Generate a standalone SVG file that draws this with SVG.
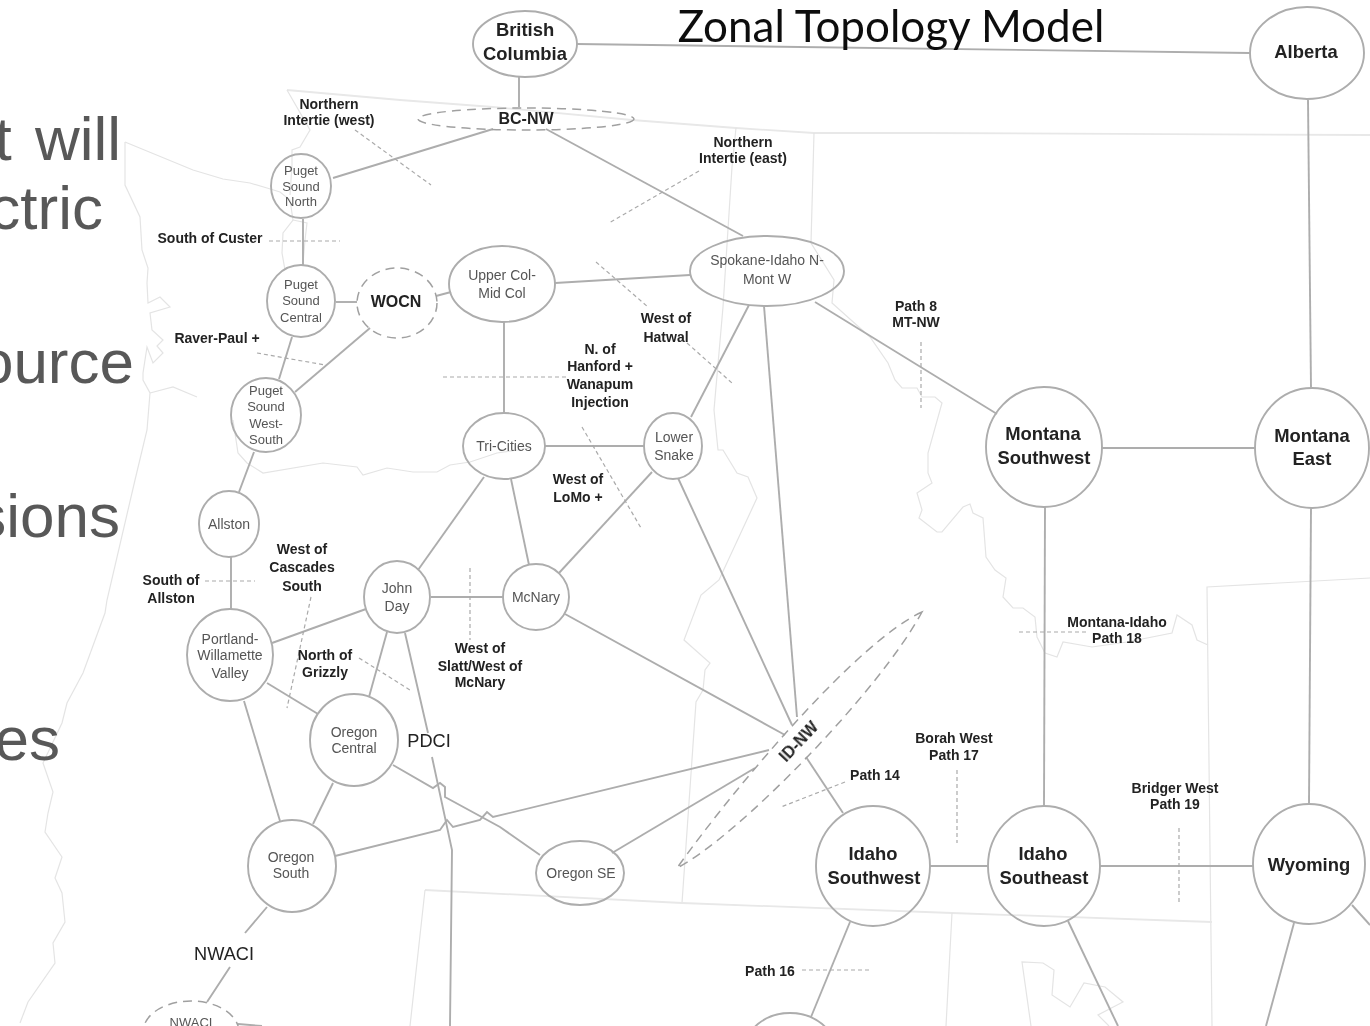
<svg xmlns="http://www.w3.org/2000/svg" width="1370" height="1026" viewBox="0 0 1370 1026">
<defs><filter id="soft" x="-5%" y="-20%" width="110%" height="140%"><feGaussianBlur stdDeviation="0.35"/></filter></defs>
<style>
text{font-family:"Liberation Sans",Arial,sans-serif;text-anchor:middle;filter:url(#soft)}
.n{fill:none;stroke:#adadad;stroke-width:1.9}
.d{fill:none;stroke:#a0a0a0;stroke-width:1.5;stroke-dasharray:9 6}
.c{fill:none;stroke:#adadad;stroke-width:1.9}
.m{fill:none;stroke:#e4e4e4;stroke-width:1.2}
.m2{fill:none;stroke:#e8e8e8;stroke-width:1.8}
.x{fill:none;stroke:#aaa;stroke-width:1.2;stroke-dasharray:4 3}
.s{font-size:13px;fill:#555}
.t{font-size:14px;fill:#555}
.l{font-size:14px;font-weight:bold;fill:#222}
.b{font-size:18.4px;font-weight:bold;fill:#222}
.r{font-size:18.2px;fill:#222}
.big{font-size:62px;fill:#595959;text-anchor:end}
</style>
<rect width="1370" height="1026" fill="#fff"/>
<g id="map">
<path class="m2" d="M287 90L400 100L493 107L632 120L736 128L814 133L923 133L1370 135"/>
<path class="m" d="M287 90L310 130L300 147L292 150L292 165L290 195"/>
<path class="m" d="M125 142L193 170L223 179L250 183L267 188L280 192L290 200L293 220L283 233L282 253L285 270"/>
<path class="m" d="M293 220L307 223L305 240L303 263"/>
<path class="m" d="M125 142L125 185L140 217L142 250L148 268L147 283L148 303L160 297L170 307L150 313L152 330L163 340L157 346L163 353L153 363L147 347L143 373L143 380L150 393L147 430L135 480L107 600L105 613L83 673L67 703L62 723L43 763L53 792L48 813L45 832L62 857L55 878L62 893L65 922L53 943L55 963L28 1002L20 1023"/>
<path class="m" d="M150 393L173 387L197 397"/>
<path class="m" d="M233 420L238 453L247 463L263 473L323 463L357 467L363 475L387 468L413 472L437 472L450 465L470 462L497 453L530 448"/>
<path class="m" d="M736 128L732 167L723 307L714 410L718 450L723 450L737 473L748 477L757 498L719 580L701 595L684 640L710 663L705 670L703 690L696 702L682 903"/>
<path class="m" d="M814 133L811 243L834 280L832 303L870 337L888 363L895 380L902 388L917 388L922 397L935 397L942 403L928 453L928 473L932 483L917 493L922 510L919 518L937 532L942 532L963 507L970 504L973 513L983 518L986 557L995 570L1006 578L1003 597L1013 608L1023 608L1035 617L1037 637L1045 653L1057 657L1063 642L1092 647L1127 642L1172 633L1177 615L1192 625L1197 640L1208 645"/>
<path class="m" d="M1370 578L1207 587L1212 1026"/>
<path class="m2" d="M425 890L682 903L952 913L1212 922"/>
<path class="m" d="M425 890L410 1026M952 913L946 1026"/>
<path class="m" d="M1031 1026L1022 962L1043 963L1054 970L1052 995L1070 1007L1084 983L1105 987L1123 1002L1098 1015L1109 1026"/>
</g>
<g id="connectors">
<path class="c" d="M577 44L1250 53"/>
<path class="c" d="M519 76L519 107"/>
<path class="c" d="M333 178L493 129"/>
<path class="c" d="M546 129L743 236"/>
<path class="c" d="M303 219L303 266"/>
<path class="c" d="M336 302L357 302"/>
<path class="c" d="M436 296L451 292"/>
<path class="c" d="M292 337L279 379"/>
<path class="c" d="M370 328L295 392"/>
<path class="c" d="M555 283L690 275"/>
<path class="c" d="M504 322L504 413"/>
<path class="c" d="M545 446L644 446"/>
<path class="c" d="M749 305L691 417"/>
<path class="c" d="M254 452L239 492"/>
<path class="c" d="M231 557L231 609"/>
<path class="c" d="M484 477L418 570"/>
<path class="c" d="M511 479L529 565"/>
<path class="c" d="M652 472L559 573"/>
<path class="c" d="M431 597L503 597"/>
<path class="c" d="M272 643L366 609"/>
<path class="c" d="M387 632L369 697"/>
<path class="c" d="M267 683L318 714"/>
<path class="c" d="M244 701L280 821"/>
<path class="c" d="M333 783L313 824"/>
<path class="c" d="M405 633L428 733M432 757L452 850L450 1026"/>
<path class="c" d="M393 765L433 788L440 783L445 787L445 797L500 827L540 855"/>
<path class="c" d="M335 856L440 830L447 820L453 827L480 820L487 812L493 817L769 750"/>
<path class="c" d="M612 853L755 768"/>
<path class="c" d="M565 614L785 735"/>
<path class="c" d="M678 478L792 725"/>
<path class="c" d="M764 306L797 717"/>
<path class="c" d="M806 757L843 813"/>
<path class="c" d="M815 302L997 414"/>
<path class="c" d="M1101 448L1256 448"/>
<path class="c" d="M1308 100L1311 388"/>
<path class="c" d="M1045 507L1044 806"/>
<path class="c" d="M1311 508L1309 804"/>
<path class="c" d="M930 866L988 866"/>
<path class="c" d="M1100 866L1253 866"/>
<path class="c" d="M850 922L811 1017"/>
<path class="c" d="M1068 921L1118 1026"/>
<path class="c" d="M1294 923L1266 1026"/>
<path class="c" d="M1352 905L1370 925"/>
<path class="c" d="M267 907L245 933M230 967L207 1002"/>
<path class="c" d="M238 1024L262 1026"/>
</g>
<g id="cuts">
<path class="x" d="M355 130L431 185"/>
<path class="x" d="M699 171L609 223"/>
<path class="x" d="M269 241L340 241"/>
<path class="x" d="M257 353L325 365"/>
<path class="x" d="M596 262L648 307M687 343L732 383"/>
<path class="x" d="M443 377L566 377"/>
<path class="x" d="M582 427L641 528"/>
<path class="x" d="M311 597L287 708"/>
<path class="x" d="M359 658L410 690"/>
<path class="x" d="M470 568L470 640"/>
<path class="x" d="M205 581L255 581"/>
<path class="x" d="M921 342L921 408"/>
<path class="x" d="M845 782L781 807"/>
<path class="x" d="M957 770L957 843"/>
<path class="x" d="M1179 828L1179 902"/>
<path class="x" d="M1019 632L1088 632"/>
<path class="x" d="M802 970L870 970"/>
</g>
<g id="slide-text">
<text class="big" x="121" y="160" word-spacing="6">t will</text>
<text class="big" x="103" y="229">ctric</text>
<text class="big" x="134" y="383">ource</text>
<text class="big" x="120" y="537">sions</text>
<text class="big" x="60" y="760">es</text>
<text x="891" y="42" style="font-family:Lato,'Open Sans',sans-serif;font-size:44px;fill:#111">Zonal Topology Model</text>
</g>
<g id="british-columbia"><ellipse class="n" cx="525" cy="44" rx="52" ry="33"/><text class="b" x="525" y="36">British</text><text class="b" x="525" y="60">Columbia</text></g>
<g id="alberta"><ellipse class="n" cx="1307" cy="53" rx="57" ry="46"/><text class="b" x="1306" y="58">Alberta</text></g>
<g id="bc-nw"><ellipse class="d" cx="526" cy="119" rx="108" ry="11"/><text x="526" y="124" style="font-size:16px;font-weight:bold;fill:#222">BC-NW</text></g>
<g id="puget-north"><ellipse class="n" cx="301" cy="186" rx="30" ry="32"/><text class="s" x="301" y="175">Puget</text><text class="s" x="301" y="191">Sound</text><text class="s" x="301" y="206">North</text></g>
<g id="puget-central"><ellipse class="n" cx="301" cy="301" rx="34" ry="36"/><text class="s" x="301" y="289">Puget</text><text class="s" x="301" y="305">Sound</text><text class="s" x="301" y="322">Central</text></g>
<g id="wocn"><ellipse class="d" cx="397" cy="303" rx="40" ry="35"/><text x="396" y="307" style="font-size:16px;font-weight:bold;fill:#222">WOCN</text></g>
<g id="puget-west-south"><ellipse class="n" cx="266" cy="415" rx="35" ry="37"/><text class="s" x="266" y="395">Puget</text><text class="s" x="266" y="411">Sound</text><text class="s" x="266" y="428">West-</text><text class="s" x="266" y="444">South</text></g>
<g id="upper-col"><ellipse class="n" cx="502" cy="284" rx="53" ry="38"/><text class="t" x="502" y="280">Upper Col-</text><text class="t" x="502" y="298">Mid Col</text></g>
<g id="spokane"><ellipse class="n" cx="767" cy="271" rx="77" ry="35"/><text class="t" x="767" y="265">Spokane-Idaho N-</text><text class="t" x="767" y="284">Mont W</text></g>
<g id="tri-cities"><ellipse class="n" cx="504" cy="446" rx="41" ry="33"/><text class="t" x="504" y="451">Tri-Cities</text></g>
<g id="lower-snake"><ellipse class="n" cx="673" cy="446" rx="29" ry="33"/><text class="t" x="674" y="442">Lower</text><text class="t" x="674" y="460">Snake</text></g>
<g id="allston"><ellipse class="n" cx="229" cy="524" rx="30" ry="33"/><text class="t" x="229" y="529">Allston</text></g>
<g id="john-day"><ellipse class="n" cx="397" cy="597" rx="33" ry="36"/><text class="t" x="397" y="593">John</text><text class="t" x="397" y="611">Day</text></g>
<g id="mcnary"><ellipse class="n" cx="536" cy="597" rx="33" ry="33"/><text class="t" x="536" y="602">McNary</text></g>
<g id="portland"><ellipse class="n" cx="230" cy="655" rx="43" ry="46"/><text class="t" x="230" y="644">Portland-</text><text class="t" x="230" y="660">Willamette</text><text class="t" x="230" y="678">Valley</text></g>
<g id="oregon-central"><ellipse class="n" cx="354" cy="740" rx="44" ry="46"/><text class="t" x="354" y="737">Oregon</text><text class="t" x="354" y="753">Central</text></g>
<g id="oregon-south"><ellipse class="n" cx="292" cy="866" rx="44" ry="46"/><text class="t" x="291" y="862">Oregon</text><text class="t" x="291" y="878">South</text></g>
<g id="oregon-se"><ellipse class="n" cx="580" cy="873" rx="44" ry="32"/><text class="t" x="581" y="878">Oregon SE</text></g>
<g id="id-nw"><path class="d" d="M922 612C860 640 740 780 677 868C740 835 880 690 922 612Z"/><text x="799" y="747" transform="rotate(-46.5 799 742)" style="font-size:16px;font-weight:bold;fill:#222">ID-NW</text></g>
<g id="idaho-southwest"><ellipse class="n" cx="873" cy="866" rx="57" ry="60"/><text class="b" x="873" y="860">Idaho</text><text class="b" x="874" y="884">Southwest</text></g>
<g id="idaho-southeast"><ellipse class="n" cx="1044" cy="866" rx="56" ry="60"/><text class="b" x="1043" y="860">Idaho</text><text class="b" x="1044" y="884">Southeast</text></g>
<g id="wyoming"><ellipse class="n" cx="1309" cy="864" rx="56" ry="60"/><text class="b" x="1309" y="871">Wyoming</text></g>
<g id="montana-southwest"><ellipse class="n" cx="1044" cy="447" rx="58" ry="60"/><text class="b" x="1043" y="440">Montana</text><text class="b" x="1044" y="464">Southwest</text></g>
<g id="montana-east"><ellipse class="n" cx="1312" cy="448" rx="57" ry="60"/><text class="b" x="1312" y="442">Montana</text><text class="b" x="1312" y="465">East</text></g>
<g id="nwaci"><ellipse class="d" cx="191" cy="1032" rx="48" ry="31"/><text class="s" x="191" y="1027">NWACI</text></g>
<g id="bottom-node"><ellipse class="n" cx="790" cy="1050" rx="45" ry="37"/></g>
<g id="labels">
<text class="l" x="329" y="109">Northern</text><text class="l" x="329" y="125">Intertie (west)</text>
<text class="l" x="743" y="147">Northern</text><text class="l" x="743" y="163">Intertie (east)</text>
<text class="l" x="210" y="243">South of Custer</text>
<text class="l" x="217" y="343">Raver-Paul +</text>
<text class="l" x="666" y="323">West of</text><text class="l" x="666" y="342">Hatwal</text>
<text class="l" x="600" y="354">N. of</text><text class="l" x="600" y="371">Hanford +</text><text class="l" x="600" y="389">Wanapum</text><text class="l" x="600" y="407">Injection</text>
<text class="l" x="916" y="311">Path 8</text><text class="l" x="916" y="327">MT-NW</text>
<text class="l" x="578" y="484">West of</text><text class="l" x="578" y="502">LoMo +</text>
<text class="l" x="302" y="554">West of</text><text class="l" x="302" y="572">Cascades</text><text class="l" x="302" y="591">South</text>
<text class="l" x="171" y="585">South of</text><text class="l" x="171" y="603">Allston</text>
<text class="l" x="325" y="660">North of</text><text class="l" x="325" y="677">Grizzly</text>
<text class="l" x="480" y="653">West of</text><text class="l" x="480" y="671">Slatt/West of</text><text class="l" x="480" y="687">McNary</text>
<text class="l" x="1117" y="627">Montana-Idaho</text><text class="l" x="1117" y="643">Path 18</text>
<text class="l" x="954" y="743">Borah West</text><text class="l" x="954" y="760">Path 17</text>
<text class="l" x="875" y="780">Path 14</text>
<text class="l" x="1175" y="793">Bridger West</text><text class="l" x="1175" y="809">Path 19</text>
<text class="l" x="770" y="976">Path 16</text>
<text class="r" x="429" y="747">PDCI</text>
<text class="r" x="224" y="960">NWACI</text>
</g>
</svg>
